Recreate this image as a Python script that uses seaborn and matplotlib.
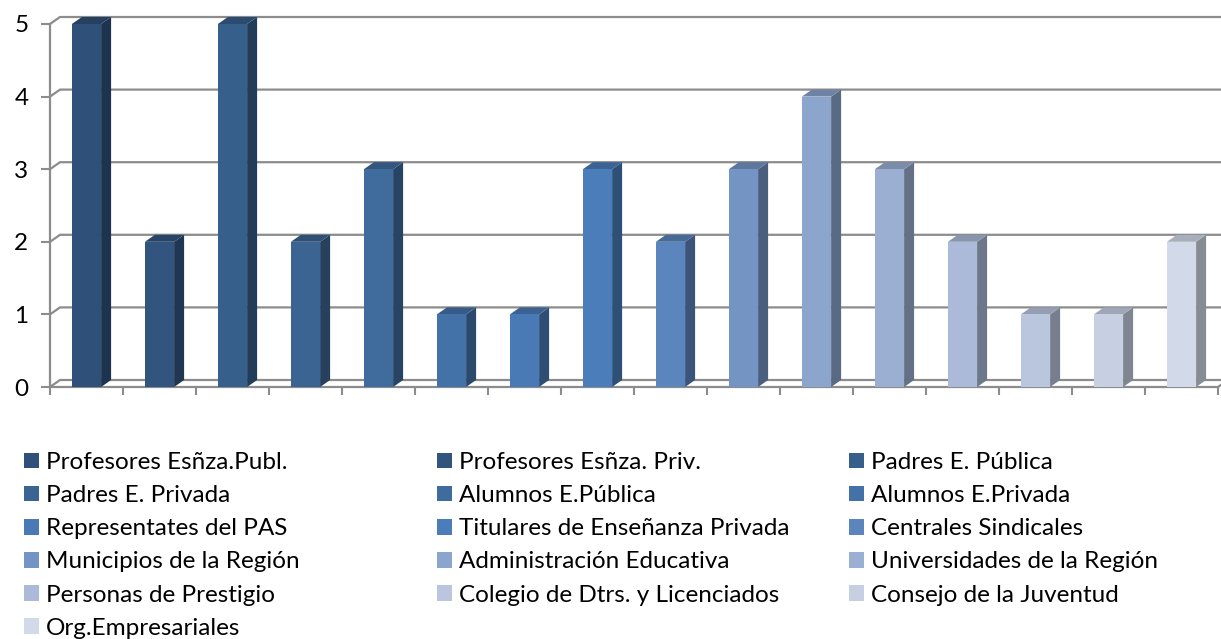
import matplotlib
matplotlib.use('Agg')
import matplotlib.pyplot as plt
import pandas as pd
import seaborn as sns
from matplotlib.colors import to_rgb
from matplotlib.patches import Polygon

categories = ['Profesores Esñza.Publ.', 'Profesores Esñza. Priv.', 'Padres E. Pública',
              'Padres E. Privada', 'Alumnos E.Pública', 'Alumnos E.Privada',
              'Representates del PAS', 'Titulares de Enseñanza Privada', 'Centrales Sindicales',
              'Municipios de la Región', 'Administración Educativa', 'Universidades de la Región',
              'Personas de Prestigio', 'Colegio de Dtrs. y Licenciados', 'Consejo de la Juventud',
              'Org.Empresariales']
values = [5, 2, 5, 2, 3, 1, 1, 3, 2, 3, 4, 3, 2, 1, 1, 2]
colors = ['#2f5079', '#325580', '#375f8b', '#3b6492', '#3f6b9d', '#4372a8',
          '#4a7ab5', '#4a7db9', '#5a85bd', '#7495c4', '#8ba5cd', '#9aafd2',
          '#abbad8', '#bac6de', '#c7d0e3', '#d2d9e8']
yticks = [0, 1, 2, 3, 4, 5]

W, H = 1221, 639
LEFT, RIGHT, BASE, TOP = 50, 1218, 387, 24
GRID = '#8c8c8c'

sns.set_theme(style='white')
plt.rcParams['font.family'] = ['Lato', 'DejaVu Sans']

fig = plt.figure(figsize=(W / 100, H / 100), dpi=100)
ax = fig.add_axes([LEFT / W, 1 - BASE / H, (RIGHT - LEFT) / W, (BASE - TOP) / H])

df = pd.DataFrame({'cat': categories, 'val': values})
sns.barplot(data=df, x='cat', y='val', hue='cat', order=categories, hue_order=categories,
            palette=colors, dodge=False, width=0.4, saturation=1, legend=False, ax=ax, zorder=5,
            linewidth=0, edgecolor='none')

ax.set_xlim(-0.5, len(categories) - 0.5)
ax.set_ylim(0, 5)
ax.set_xlabel('')
ax.set_ylabel('')

# depth of the fake 3d, in data units
DX = 10 / ((RIGHT - LEFT) / len(categories))
DY = 7 / ((BASE - TOP) / 5)

# back wall lines
x0 = -0.5
x1 = len(categories) - 0.5
for y in yticks:
    ax.plot([x0, x0 + DX, x1 + DX], [y, y + DY, y + DY], color=GRID, lw=1.6, clip_on=False, zorder=1)
ax.plot([x1, x1 + DX], [0, DY], color=GRID, lw=1.6, clip_on=False, zorder=1)

# side and top faces
for patch, col in zip(ax.patches, colors):
    x = patch.get_x()
    w = patch.get_width()
    h = patch.get_height()
    if h == 0:
        continue
    rgb = to_rgb(col)
    side = tuple(c * 0.64 for c in rgb)
    top = tuple(c * 0.8 for c in rgb)
    ax.add_patch(Polygon([(x + w, 0), (x + w + DX, DY), (x + w + DX, h + DY), (x + w, h)],
                         facecolor=side, edgecolor='none', zorder=4, clip_on=False))
    ax.add_patch(Polygon([(x, h), (x + DX, h + DY), (x + w + DX, h + DY), (x + w, h)],
                         facecolor=top, edgecolor='none', zorder=4, clip_on=False))

sns.despine(ax=ax, top=True, right=True)
for s in ['left', 'bottom']:
    ax.spines[s].set_color(GRID)
    ax.spines[s].set_linewidth(1.6)

ax.set_yticks(yticks)
ax.set_xticks([i - 0.5 for i in range(len(categories) + 1)])
ax.set_xticklabels([])
ax.tick_params(axis='y', length=6.5, width=1.5, color=GRID, pad=9, labelsize=17.5, labelcolor='black', left=True)
ax.tick_params(axis='x', length=5.5, width=1.5, color=GRID, bottom=True)

# excel lays the legend out in fixed columns, so one legend per column
handles = list(ax.patches)[:len(categories)]
col_x = [24, 437, 849]
for i, cx in enumerate(col_x):
    leg = fig.legend(handles[i::3], categories[i::3], loc='upper left',
                     bbox_to_anchor=(cx / W, 1 - 452 / H), bbox_transform=fig.transFigure,
                     frameon=False, fontsize=17.5, borderpad=0, borderaxespad=0,
                     handlelength=0.62, handleheight=0.62, handletextpad=0.29, labelspacing=0.5)
    for t in leg.get_texts():
        t.set_color('black')

fig.savefig('out.png', dpi=100)
